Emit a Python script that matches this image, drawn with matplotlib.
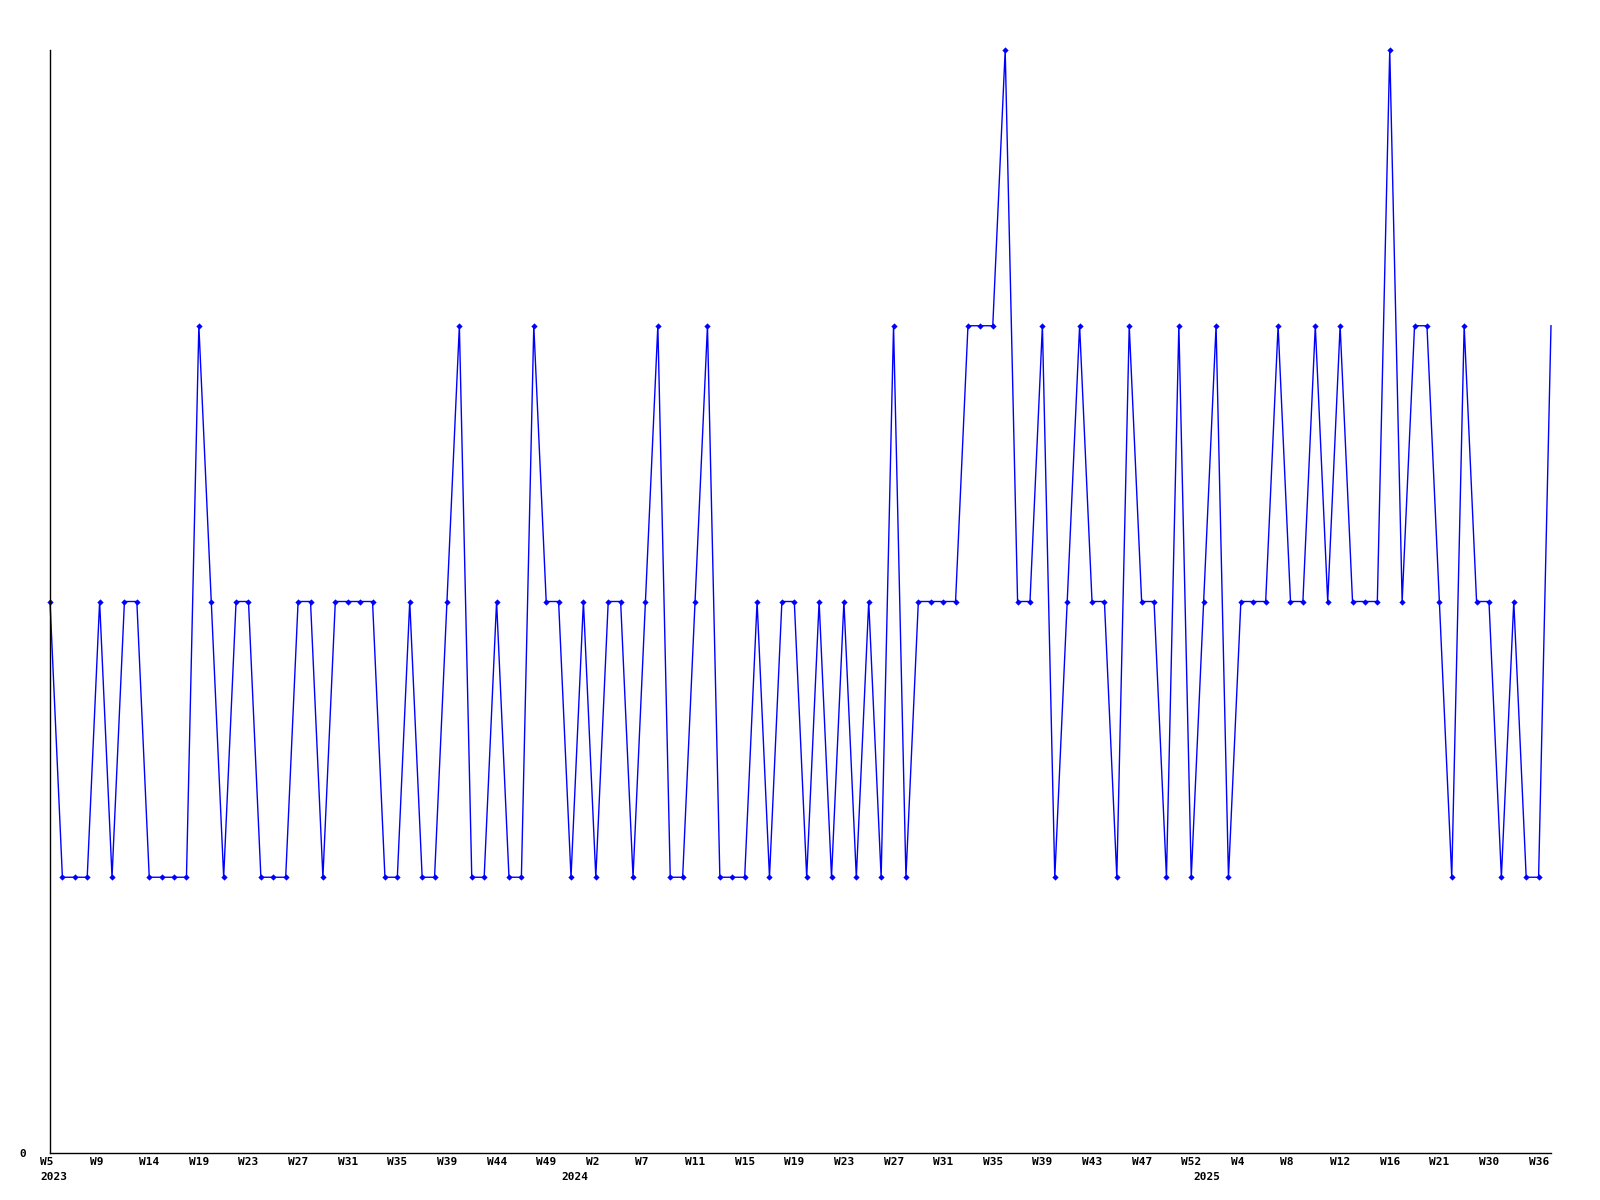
import numpy as np
import matplotlib
matplotlib.use("Agg")
import matplotlib.pyplot as plt
from matplotlib.transforms import ScaledTranslation

# weekly values, one per data point (categorical x axis)
values = [2, 1, 1, 1, 2, 1, 2, 2, 1, 1,
          1, 1, 3, 2, 1, 2, 2, 1, 1, 1,
          2, 2, 1, 2, 2, 2, 2, 1, 1, 2,
          1, 1, 2, 3, 1, 1, 2, 1, 1, 3,
          2, 2, 1, 2, 1, 2, 2, 1, 2, 3,
          1, 1, 2, 3, 1, 1, 1, 2, 1, 2,
          2, 1, 2, 1, 2, 1, 2, 1, 3, 1,
          2, 2, 2, 2, 3, 3, 3, 4, 2, 2,
          3, 1, 2, 3, 2, 2, 1, 3, 2, 2,
          1, 3, 1, 2, 3, 1, 2, 2, 2, 3,
          2, 2, 3, 2, 3, 2, 2, 2, 4, 2,
          3, 3, 2, 1, 3, 2, 2, 1, 2, 1,
          1, 3]

week_labels = ["W5", "W9", "W14", "W19", "W23", "W27", "W31", "W35", "W39",
               "W44", "W49", "W2", "W7", "W11", "W15", "W19", "W23", "W27",
               "W31", "W35", "W39", "W43", "W47", "W52", "W4", "W8", "W12",
               "W16", "W21", "W30", "W36"]
label_step = 4

years = ["2023", "2024", "2025"]
year_pos = [0, 42, 93]

x = np.arange(len(values))

fig = plt.figure(figsize=(16, 12), dpi=100)
ax = fig.add_axes([50 / 1600, 47 / 1200, 1501 / 1600, 1103 / 1200])

ax.plot(x, values, color="#0000ff", linewidth=1.0, marker="D",
        markersize=3.2, markerfacecolor="#0000ff", markeredgewidth=0,
        markevery=list(range(len(values) - 1)), clip_on=False)

ax.set_xlim(0, len(values) - 1)
ax.set_ylim(0, 4)

for s in ["top", "right"]:
    ax.spines[s].set_visible(False)
for s in ["left", "bottom"]:
    ax.spines[s].set_linewidth(1.0)
    ax.spines[s].set_color("black")

font = dict(family="DejaVu Sans Mono", weight="bold", size=8)

ax.set_yticks([0])
ax.set_yticklabels(["0"], **font)
ax.tick_params(axis="y", length=0, pad=17)

ax.xaxis.remove_overlapping_locs = False
ax.set_xticks(x[::label_step][:len(week_labels)])
ax.set_xticklabels(week_labels, ha="left", **font)
ax.set_xticks(year_pos, minor=True)
ax.set_xticklabels(years, minor=True, ha="left", **font)
ax.tick_params(axis="x", which="major", length=0, pad=3)
ax.tick_params(axis="x", which="minor", length=0, pad=14)

shift = ScaledTranslation(-10 / 100, 0, fig.dpi_scale_trans)
for lab in ax.get_xticklabels() + ax.get_xticklabels(minor=True):
    lab.set_transform(lab.get_transform() + shift)

fig.savefig("out.png", dpi=100)
